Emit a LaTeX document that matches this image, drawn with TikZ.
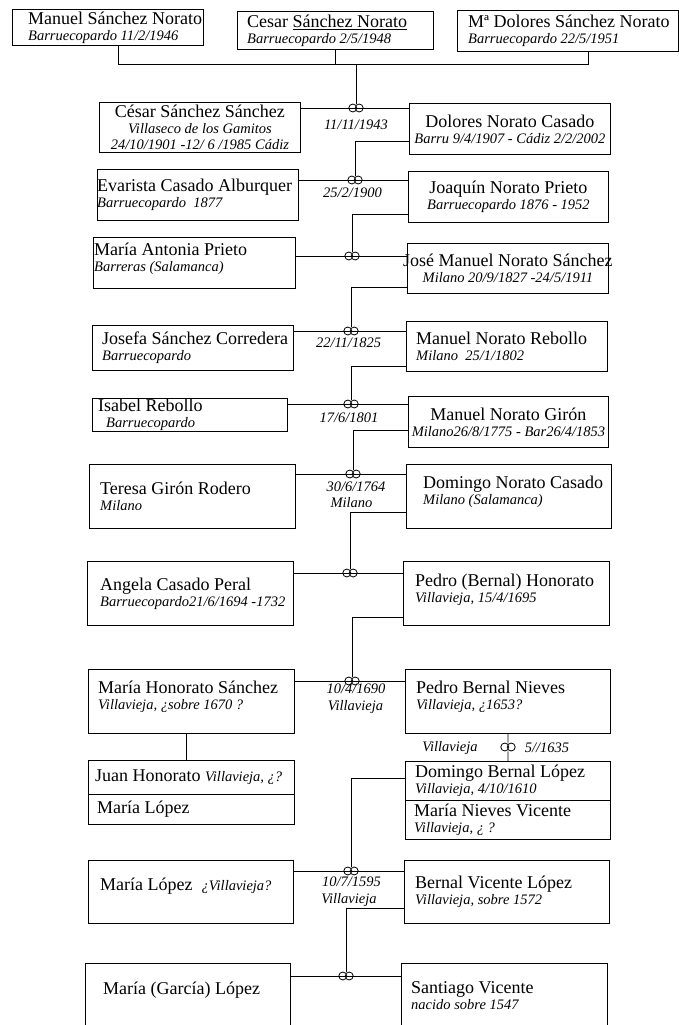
\documentclass[tikz,border=0pt]{standalone}
\usepackage{fontspec}
\setmainfont{Liberation Serif}
\usetikzlibrary{positioning}

\newcommand{\lugar}[1]{{\fontsize{14.5}{16}\selectfont\itshape #1}}

\tikzset{
    caja/.style={draw, line width=0.9pt, anchor=north west, inner sep=0pt},
    nombre/.style={inner sep=0pt, align=left, font=\fontsize{18}{16}\selectfont},
    fecha/.style={inner sep=0pt, font=\fontsize{14.5}{16}\selectfont\itshape},
    anillo/.style={inner sep=0pt, minimum width=15pt, minimum height=8.5pt},
    linea/.style={line width=0.8pt}
}

\begin{document}
\begin{tikzpicture}[x=1pt, y=-1pt]
        \useasboundingbox (0,0) rectangle (679,1025);

        % hermanos
        \node[caja, minimum width=191pt, minimum height=36pt] (msn) at (12,9) {};
        \node[nombre, right=16pt of msn.west] (msn-t) {Manuel Sánchez Norato\\\lugar{Barruecopardo 11/2/1946}};
        \node[caja, minimum width=196pt, minimum height=38pt] (csn) at (237,11) {};
        \node[nombre, right=10pt of csn.west] (csn-t) {Cesar \underline{Sánchez Norato}\\\lugar{Barruecopardo 2/5/1948}};
        \node[caja, minimum width=221pt, minimum height=41pt] (mdsn) at (457,10) {};
        \node[nombre, right=11pt of mdsn.west] (mdsn-t) {Mª Dolores Sánchez Norato\\\lugar{Barruecopardo 22/5/1951}};

        % parejas
        \node[caja, minimum width=201pt, minimum height=50pt] (css) at (99,102) {};
        \node[nombre, align=center] (css-t) at (css) {César Sánchez Sánchez\\\lugar{Villaseco de los Gamitos}\\\lugar{24/10/1901 -12/ 6 /1985 Cádiz}};
        \node[caja, minimum width=201pt, minimum height=51pt] (dnc) at (409,103) {};
        \node[nombre, align=center] (dnc-t) at (dnc) {Dolores Norato Casado\\\lugar{Barru 9/4/1907 - Cádiz 2/2/2002}};

        \node[caja, minimum width=201pt, minimum height=51pt] (eca) at (97,169) {};
        \node[nombre, right=0pt of eca.west] (eca-t) {Evarista Casado Alburquer\\\lugar{Barruecopardo\ \ 1877}};
        \node[caja, minimum width=200pt, minimum height=51pt] (jnp) at (408,171) {};
        \node[nombre, align=center] (jnp-t) at (jnp) {Joaquín Norato Prieto\\\lugar{Barruecopardo 1876 - 1952}};

        \node[caja, minimum width=202pt, minimum height=51pt] (map) at (93,237) {};
        \node[nombre, right=1pt of map.west, yshift=4pt] (map-t) {María Antonia Prieto\\\lugar{Barreras (Salamanca)}};
        \node[caja, minimum width=201pt, minimum height=50pt] (jmns) at (407,243) {};
        \node[nombre, align=center] (jmns-t) at (jmns) {José Manuel Norato Sánchez\\\lugar{Milano 20/9/1827 -24/5/1911}};

        \node[caja, minimum width=201pt, minimum height=45pt] (jsc) at (92,325) {};
        \node[nombre, right=10pt of jsc.west] (jsc-t) {Josefa Sánchez Corredera\\\lugar{Barruecopardo}};
        \node[caja, minimum width=201pt, minimum height=50pt] (mnr) at (406,321) {};
        \node[nombre, right=10pt of mnr.west] (mnr-t) {Manuel Norato Rebollo\\\lugar{Milano\ \ 25/1/1802}};

        \node[caja, minimum width=195pt, minimum height=33pt] (ir) at (92,398) {};
        \node[nombre, right=6pt of ir.west] (ir-t) {Isabel Rebollo\\\lugar{\hspace*{8pt}Barruecopardo}};
        \node[caja, minimum width=200pt, minimum height=51pt] (mng) at (408,396) {};
        \node[nombre, align=center] (mng-t) at (mng) {Manuel Norato Girón\\\lugar{Milano26/8/1775 - Bar26/4/1853}};

        \node[caja, minimum width=206pt, minimum height=64pt] (tgr) at (89,464) {};
        \node[nombre, right=11pt of tgr.west] (tgr-t) {Teresa Girón Rodero\\\lugar{Milano}};
        \node[caja, minimum width=205pt, minimum height=64pt] (dnca) at (406,464) {};
        \node[nombre, right=17pt of dnca.west, yshift=5pt] (dnca-t) {Domingo Norato Casado\\\lugar{Milano (Salamanca)}};

        \node[caja, minimum width=206pt, minimum height=64pt] (acp) at (87,561) {};
        \node[nombre, right=13pt of acp.west] (acp-t) {Angela Casado Peral\\\lugar{Barruecopardo21/6/1694 -1732}};
        \node[caja, minimum width=206pt, minimum height=64pt] (pbh) at (403,561) {};
        \node[nombre, right=12pt of pbh.west, yshift=4pt] (pbh-t) {Pedro (Bernal) Honorato\\\lugar{Villavieja, 15/4/1695}};

        \node[caja, minimum width=206pt, minimum height=64pt] (mhs) at (88,669) {};
        \node[nombre, right=10pt of mhs.west, yshift=5pt] (mhs-t) {María Honorato Sánchez\\\lugar{Villavieja, ¿sobre 1670 ?}};
        \node[caja, minimum width=205pt, minimum height=64pt] (pbn) at (405,669) {};
        \node[nombre, right=11pt of pbn.west, yshift=5pt] (pbn-t) {Pedro Bernal Nieves\\\lugar{Villavieja, ¿1653?}};

        \node[caja, minimum width=206pt, minimum height=34pt] (jh) at (88,760) {};
        \node[nombre, right=7pt of jh.west] (jh-t) {Juan Honorato \lugar{Villavieja, ¿?}};
        \node[caja, minimum width=206pt, minimum height=30pt] (ml1) at (88,794) {};
        \node[nombre, right=9pt of ml1.west] (ml1-t) {María López};

        \node[caja, minimum width=205pt, minimum height=39pt] (dbl) at (405,761) {};
        \node[nombre, right=10pt of dbl.west] (dbl-t) {Domingo Bernal López\\\lugar{Villavieja, 4/10/1610}};
        \node[caja, minimum width=205pt, minimum height=39pt] (mnv) at (405,800) {};
        \node[nombre, right=9pt of mnv.west] (mnv-t) {María Nieves Vicente\\\lugar{Villavieja, ¿ ?}};

        \node[caja, minimum width=205pt, minimum height=63pt] (ml2) at (88,860) {};
        \node[nombre, right=12pt of ml2.west, yshift=6pt] (ml2-t) {María López\ \ \lugar{¿Villavieja?}};
        \node[caja, minimum width=205pt, minimum height=63pt] (bvl) at (404,860) {};
        \node[nombre, right=11pt of bvl.west] (bvl-t) {Bernal Vicente López\\\lugar{Villavieja, sobre 1572}};

        \node[caja, minimum width=205pt, minimum height=80pt] (mgl) at (85,963) {};
        \node[nombre, right=18pt of mgl.north west, yshift=-27pt] (mgl-t) {María (García) López};
        \node[caja, minimum width=206pt, minimum height=80pt] (sv) at (401,963) {};
        \node[nombre, right=10pt of sv.north west, yshift=-33pt] (sv-t) {Santiago Vicente\\\lugar{nacido sobre 1547}};

        % anillos
        \node[anillo] (r1) at (356,108) {};
        \node[anillo] (r2) at (355,180) {};
        \node[anillo] (r3) at (352,256) {};
        \node[anillo] (r4) at (351,331) {};
        \node[anillo] (r5) at (351,404) {};
        \node[anillo] (r6) at (353,474) {};
        \node[anillo] (r7) at (350,573) {};
        \node[anillo] (r8) at (352,681) {};
        \node[anillo] (r9) at (508,747) {};
        \node[anillo] (r10) at (351,871) {};
        \node[anillo] (r11) at (346,976) {};

        % fechas de boda
        \node[fecha] (b1) at (356,124.5) {11/11/1943};
        \node[fecha] (b2) at (352.5,193) {25/2/1900};
        \node[fecha] (b3) at (348.5,343) {22/11/1825};
        \node[fecha] (b4) at (349,418) {17/6/1801};
        \node[fecha] (b5) at (356,487) {30/6/1764};
        \node[fecha] (b5l) at (351.5,503) {Milano};
        \node[fecha] (b6) at (356,689) {10/4/1690};
        \node[fecha] (b6l) at (355.5,707) {Villavieja};
        \node[fecha] (b7l) at (450,748) {Villavieja};
        \node[fecha] (b7) at (547,748) {5//1635};
        \node[fecha] (b8) at (351.5,882) {10/7/1595};
        \node[fecha] (b8l) at (349,900) {Villavieja};

        % lineas
        \coordinate (hermanos) at (356,64);
        \draw[linea] ([xshift=10pt]msn.south) |- (hermanos);
        \draw[linea] ([xshift=20pt]mdsn.south) |- (hermanos);
        \draw[linea] (csn.south) -- (csn.south |- hermanos);
        \draw[linea] (hermanos) -- (r1.north);

        \draw[linea] (css.east |- r1) -- (dnc.west |- r1);
        \draw[linea] (eca.east |- r2) -- (jnp.west |- r2);
        \draw[linea] (map.east |- r3) -- (jmns.west |- r3);
        \draw[linea] (jsc.east |- r4) -- (mnr.west |- r4);
        \draw[linea] (ir.east |- r5) -- (mng.west |- r5);
        \draw[linea] (tgr.east |- r6) -- (dnca.west |- r6);
        \draw[linea] (acp.east |- r7) -- (pbh.west |- r7);
        \draw[linea] (mhs.east |- r8) -- (pbn.west |- r8);
        \draw[linea] (ml2.east |- r10) -- (bvl.west |- r10);
        \draw[linea] (mgl.east |- r11) -- (sv.west |- r11);

        \draw[linea] ([yshift=14pt]dnc.south west) -| (r2.north);
        \draw[linea] ([yshift=9pt]jnp.south west) -| (r3.north);
        \draw[linea] ([yshift=7pt]jmns.south west) -| (r4.north);
        \draw[linea] ([yshift=6pt]mnr.south west) -| (r5.north);
        \draw[linea] ([yshift=18pt]mng.south west) -| (r6.north);
        \draw[linea] ([yshift=17pt]dnca.south west) -| (r7.north);
        \draw[linea] ([yshift=9pt]pbh.south west) -| (r8.north);
        \draw[linea] ([yshift=23pt]dbl.south west) -| (r10.north);
        \draw[linea] ([yshift=16pt]bvl.south west) -| (r11.north);

        \draw[linea] (pbn.south) -- (r9.north);
        \draw[linea] (r9.south) -- (dbl.north);
        \draw[linea] ([xshift=-5pt]mhs.south) -- ([xshift=-5pt]jh.north);

        \foreach \r in {r1,r2,r3,r4,r5,r6,r7,r8,r9,r10,r11}
            \draw[linea] ([xshift=-3.2pt]\r.center) circle[radius=4pt] ([xshift=3.2pt]\r.center) circle[radius=4pt];
\end{tikzpicture}
\end{document}
